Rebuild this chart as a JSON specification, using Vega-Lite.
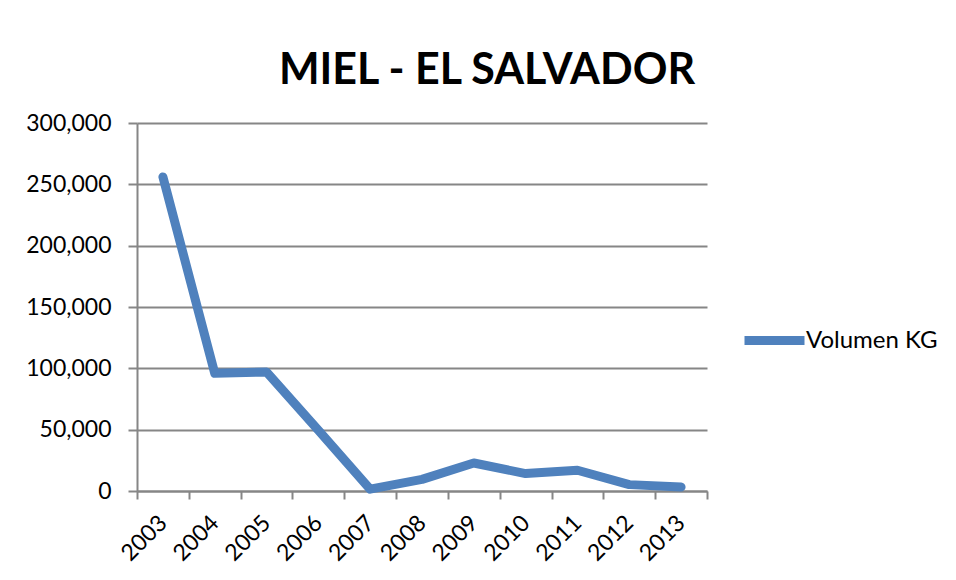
{
  "$schema": "https://vega.github.io/schema/vega-lite/v6.json",
  "autosize": "none",
  "width": 570,
  "height": 368,
  "padding": {"left": 137, "top": 123, "right": 249, "bottom": 89},
  "background": "white",
  "title": {
    "text": "MIEL - EL SALVADOR",
    "font": "Lato",
    "fontWeight": "bold",
    "fontSize": 43,
    "color": "#000000",
    "anchor": "middle",
    "dx": 65,
    "dy": 58,
    "baseline": "alphabetic",
    "offset": 43,
    "frame": "group"
  },
  "data": {
    "values": [
      {"year": "2003", "kg": 256000, "series": "Volumen KG"},
      {"year": "2004", "kg": 96000, "series": "Volumen KG"},
      {"year": "2005", "kg": 97000, "series": "Volumen KG"},
      {"year": "2006", "kg": 49500, "series": "Volumen KG"},
      {"year": "2007", "kg": 1500, "series": "Volumen KG"},
      {"year": "2008", "kg": 9500, "series": "Volumen KG"},
      {"year": "2009", "kg": 22800, "series": "Volumen KG"},
      {"year": "2010", "kg": 14200, "series": "Volumen KG"},
      {"year": "2011", "kg": 16900, "series": "Volumen KG"},
      {"year": "2012", "kg": 5200, "series": "Volumen KG"},
      {"year": "2013", "kg": 3300, "series": "Volumen KG"}
    ]
  },
  "mark": {"type": "line", "strokeWidth": 9, "strokeCap": "round", "strokeJoin": "round"},
  "encoding": {
    "x": {
      "field": "year",
      "type": "ordinal",
      "scale": {"type": "band", "paddingInner": 0, "paddingOuter": 0},
      "axis": {
        "title": null,
        "labelAngle": -45,
        "labelAlign": "right",
        "labelBaseline": "middle",
        "labelFont": "Lato",
        "labelFontSize": 23,
        "labelColor": "#000000",
        "labelPadding": 20,
        "tickBand": "extent",
        "tickSize": 8,
        "tickWidth": 2,
        "tickColor": "#868686",
        "domainColor": "#868686",
        "domainWidth": 2,
        "grid": false
      }
    },
    "y": {
      "field": "kg",
      "type": "quantitative",
      "scale": {"domain": [0, 300000], "nice": false},
      "axis": {
        "title": null,
        "values": [0, 50000, 100000, 150000, 200000, 250000, 300000],
        "format": ",d",
        "labelFont": "Lato",
        "labelFontSize": 23,
        "labelColor": "#000000",
        "labelPadding": 17,
        "tickSize": 9,
        "tickWidth": 2,
        "tickColor": "#868686",
        "domainColor": "#868686",
        "domainWidth": 2,
        "gridColor": "#868686",
        "gridWidth": 2
      }
    },
    "color": {
      "field": "series",
      "type": "nominal",
      "scale": {"range": ["#4f81bd"]},
      "legend": {
        "title": null,
        "orient": "none",
        "legendX": 603,
        "legendY": 183,
        "padding": 0,
        "symbolType": "stroke",
        "symbolSize": 3600,
        "symbolStrokeWidth": 9,
        "labelOffset": -3,
        "labelFont": "Lato",
        "labelFontSize": 24,
        "labelColor": "#000000"
      }
    }
  },
  "config": {
    "view": {"stroke": null},
    "axis": {"domainCap": "butt"}
  }
}
